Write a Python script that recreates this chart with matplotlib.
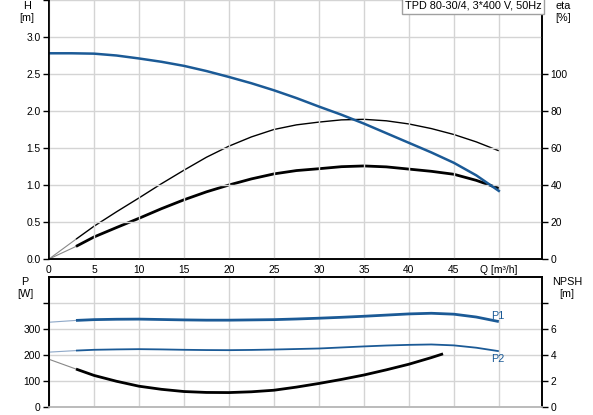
import matplotlib
matplotlib.use('Agg')
import matplotlib.pyplot as plt

plt.rcParams['font.family'] = ['Liberation Sans', 'DejaVu Sans']
plt.rcParams['font.size'] = 7.4

# ---- data ----
# head curve H [m]
q_h = [0, 2.5, 5, 7.5, 10, 12.5, 15, 17.5, 20, 22.5, 25, 27.5, 30, 32.5, 35,
       37.5, 40, 42.5, 45, 47.5, 50]
head = [2.78, 2.78, 2.775, 2.75, 2.71, 2.665, 2.61, 2.54, 2.46, 2.375, 2.28,
        2.175, 2.06, 1.95, 1.83, 1.70, 1.57, 1.44, 1.30, 1.13, 0.92]

# efficiency curves eta [%]
q_eta = [0, 3, 5, 7.5, 10, 12.5, 15, 17.5, 20, 22.5, 25, 27.5, 30, 32.5, 35,
         37.5, 40, 42.5, 45, 47.5, 50]
eta_pump = [0, 10.7, 17.7, 25.5, 33, 40.7, 48, 55, 61, 66, 70, 72.5, 74, 75.2,
            75.5, 74.7, 73, 70.5, 67.3, 63.3, 58.5]
eta_total = [0, 6.8, 11.9, 17, 22, 27.2, 32, 36.3, 40, 43.3, 46, 47.8, 48.8,
             49.9, 50.3, 49.8, 48.6, 47.4, 45.8, 42.5, 38.2]

# power curves P [W]
q_p = [0, 3, 5, 7.5, 10, 12.5, 15, 17.5, 20, 22.5, 25, 27.5, 30, 32.5, 35,
       37.5, 40, 42.5, 45, 47.5, 50]
p1 = [326, 333, 336, 337.5, 338, 336.5, 335, 334, 334, 335, 336, 338.5, 341.5,
      345, 349, 353.5, 358, 360.5, 357, 346, 328.6]
p2 = [211, 217, 220, 221.5, 222.5, 221.5, 220, 219, 218.6, 219.5, 221, 223,
      225, 229, 233, 236.5, 239, 240.5, 237, 228, 214.7]

# NPSH [m]
q_npsh = [0, 3, 5, 7.5, 10, 12.5, 15, 17.5, 20, 22.5, 25, 27.5, 30, 32.5, 35,
          37.5, 40, 42.5, 43.8]
npsh = [3.67, 2.92, 2.43, 1.98, 1.60, 1.36, 1.19, 1.12, 1.11, 1.17, 1.29, 1.53,
        1.81, 2.12, 2.46, 2.86, 3.29, 3.80, 4.09]

x_ticks = [0, 5, 10, 15, 20, 25, 30, 35, 40, 45, 50]
x_labels = ['0', '5', '10', '15', '20', '25', '30', '35', '40', '45', 'Q [m³/h]']

BLUE = '#1b5a96'
LIGHT_BLUE = '#8ea8c8'
GRID = '#d4d4d4'

fig = plt.figure(figsize=(5.93, 4.15), dpi=100)
fig.set_facecolor('white')

ax1 = fig.add_axes([49/593, 1 - 259/415, 493/593, 259/415])
ax1r = ax1.twinx()
ax2 = fig.add_axes([49/593, 1 - 407/415, 493/593, 130/415])
ax2r = ax2.twinx()


def style(ax, axr):
    ax.set_xlim(0, 54.8)
    ax.set_xticks(x_ticks)
    ax.grid(True, color=GRID, linewidth=1)
    ax.set_axisbelow(True)
    ax.tick_params(axis='both', length=4, width=1, pad=2, colors='black')
    ax.tick_params(axis='x', length=0, pad=4)
    axr.tick_params(axis='y', length=4, width=1, pad=2, colors='black')
    for a in (ax, axr):
        for s in a.spines.values():
            s.set_linewidth(1.2)
            s.set_color('black')


def split_plot(ax, q, v, color, light, lw):
    # extrapolated part (0-3) drawn thin and light
    ax.plot(q[:2], v[:2], color=light, linewidth=0.8, solid_capstyle='butt')
    ax.plot(q[1:], v[1:], color=color, linewidth=lw, solid_capstyle='butt')


# ---- top: H and eta ----
style(ax1, ax1r)
ax1.set_ylim(0, 3.5)
ax1.set_yticks([0, 0.5, 1.0, 1.5, 2.0, 2.5, 3.0, 3.5])
ax1.set_yticklabels(['0.0', '0.5', '1.0', '1.5', '2.0', '2.5', '3.0', ''])
ax1.set_xticklabels(x_labels)
ax1r.set_ylim(0, 140)
ax1r.set_yticks([0, 20, 40, 60, 80, 100])
ax1.spines['top'].set_visible(False)
ax1r.spines['top'].set_visible(False)

split_plot(ax1r, q_eta, eta_pump, 'black', '#888888', 1.0)
split_plot(ax1r, q_eta, eta_total, 'black', '#888888', 2.0)
ax1.plot(q_h, head, color=BLUE, linewidth=1.8)
ax1.set_zorder(ax1r.get_zorder() + 1)
ax1.patch.set_visible(False)

ax1.text(0.9985, 0.998, 'TPD 80-30/4, 3*400 V, 50Hz', transform=ax1.transAxes,
         ha='right', va='top', fontsize=7.8,
         bbox=dict(boxstyle='square,pad=0.28', fc='white', ec='#a0a0a0', lw=1))

# ---- bottom: P and NPSH ----
style(ax2, ax2r)
ax2.set_ylim(0, 500)
ax2.set_yticks([0, 100, 200, 300, 400])
ax2.set_yticklabels(['0', '100', '200', '300', ''])
ax2.set_xticklabels([])
ax2r.set_ylim(0, 10)
ax2r.set_yticks([0, 2, 4, 6, 8])
ax2r.set_yticklabels(['0', '2', '4', '6', ''])
ax2.spines['bottom'].set_color('#bbbbbb')
ax2r.spines['bottom'].set_color('#bbbbbb')

split_plot(ax2, q_p, p1, BLUE, LIGHT_BLUE, 2.0)
split_plot(ax2, q_p, p2, BLUE, LIGHT_BLUE, 1.3)
split_plot(ax2r, q_npsh, npsh, 'black', '#888888', 2.0)

ax2.text(49.2, 351, 'P1', color=BLUE, fontsize=7.8, ha='left', va='center')
ax2.text(49.2, 185, 'P2', color=BLUE, fontsize=7.8, ha='left', va='center')

# ---- axis titles ----
fig.text(27/593, 1 - 1/415, 'H\n[m]', ha='center', va='top', fontsize=7.8, linespacing=1.25)
fig.text(563/593, 1 - 1/415, 'eta\n[%]', ha='center', va='top', fontsize=7.8, linespacing=1.25)
fig.text(25/593, 1 - 277/415, 'P\n[W]', ha='center', va='top', fontsize=7.8, linespacing=1.25)
fig.text(567/593, 1 - 277/415, 'NPSH\n[m]', ha='center', va='top', fontsize=7.8, linespacing=1.25)

fig.savefig('out.png', dpi=100)
